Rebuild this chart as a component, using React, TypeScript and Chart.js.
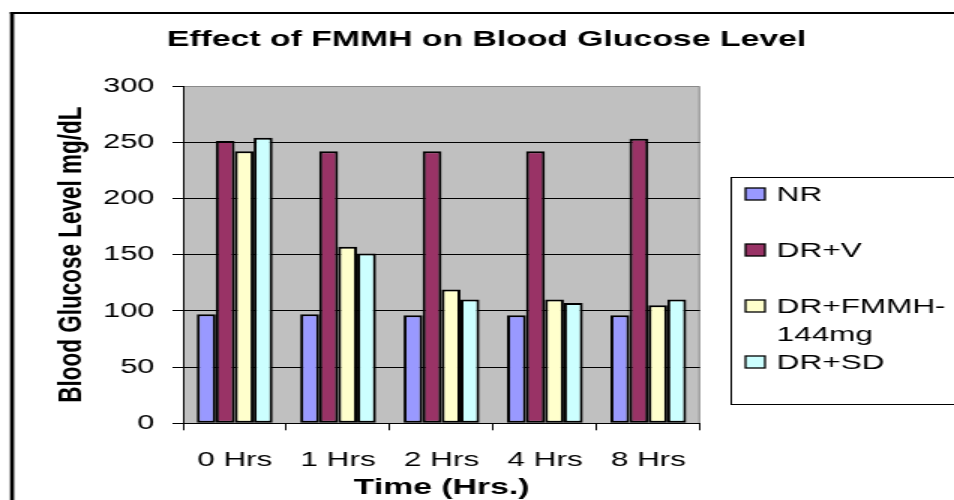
import React, { useEffect, useRef } from "react";
import { Chart, registerables } from "chart.js";

Chart.register(...registerables);

const TITLE = "Effect of FMMH on Blood Glucose Level";
const X_TITLE = "Time (Hrs.)";
const Y_TITLE = "Blood Glucose Level mg/dL";

const CATEGORIES = ["0 Hrs", "1 Hrs", "2 Hrs", "4 Hrs", "8 Hrs"];
const NR = [97, 97, 96, 96, 96];
const DR_V = [251, 242, 242, 242, 253];
const DR_FMMH = [242, 157, 119, 110, 105];
const DR_SD = [254, 151, 110, 107, 110];

const SERIES_LABELS = ["NR", "DR+V", "DR+FMMH-144mg", "DR+SD"];
const LEGEND_LINES = [["NR"], ["DR+V"], ["DR+FMMH-", "144mg"], ["DR+SD"]];
const COLORS = ["#9999FF", "#993366", "#FFFFCC", "#CCFFFF"];

const Y_MIN = 0;
const Y_MAX = 300;
const Y_STEP = 50;

const FONT = "'Liberation Sans', Arial, Helvetica, sans-serif";
const W = 636;
const H = 500;

const decor = {
  id: "decor",
  beforeDraw(chart: any) {
    const { ctx, chartArea: a } = chart;
    ctx.save();
    ctx.fillStyle = "#ffffff";
    ctx.fillRect(0, 0, chart.width, chart.height);
    // outer frame
    ctx.fillStyle = "#000000";
    ctx.fillRect(6.7, 12, 2.7, H);
    ctx.fillRect(6.7, 12, W, 2);
    // plot area
    ctx.fillStyle = "#C0C0C0";
    ctx.fillRect(a.left, a.top, a.right - a.left, a.bottom - a.top);
    ctx.strokeStyle = "#8a8a8a";
    ctx.lineWidth = 1;
    ctx.beginPath();
    ctx.moveTo(a.left, a.top + 0.5);
    ctx.lineTo(a.right - 0.5, a.top + 0.5);
    ctx.lineTo(a.right - 0.5, a.bottom);
    ctx.stroke();
    ctx.restore();
  },
  afterDraw(chart: any) {
    const { ctx } = chart;
    ctx.save();
    // title
    ctx.fillStyle = "#000";
    ctx.font = `bold 22.5px ${FONT}`;
    ctx.textAlign = "center";
    ctx.textBaseline = "alphabetic";
    ctx.fillText(TITLE, 324.3, 46);
    // legend box
    ctx.strokeStyle = "#000";
    ctx.lineWidth = 1;
    ctx.strokeRect(487.5, 177.5, 300, 227);
    ctx.font = `21px ${FONT}`;
    ctx.textAlign = "left";
    ctx.textBaseline = "middle";
    chart.data.datasets.forEach((ds: any, i: number) => {
      const cy = 194 + 56 * i;
      ctx.fillStyle = ds.backgroundColor;
      ctx.fillRect(497, cy - 6, 13, 12);
      ctx.lineWidth = 1.3;
      ctx.strokeStyle = "#000";
      ctx.strokeRect(497, cy - 6, 13, 12);
      ctx.fillStyle = "#000";
      LEGEND_LINES[i].forEach((line, j) => {
        ctx.fillText(line, 517.8, cy + 1 + j * 28);
      });
    });
    ctx.restore();
  },
};

export default function App() {
  const ref = useRef<HTMLCanvasElement>(null);
  useEffect(() => {
    if (!ref.current) return;
    const series = [NR, DR_V, DR_FMMH, DR_SD];
    const chart = new Chart(ref.current, {
      type: "bar",
      data: {
        labels: CATEGORIES,
        datasets: series.map((d, i) => ({
          label: SERIES_LABELS[i],
          data: d,
          backgroundColor: COLORS[i],
          borderColor: "#000000",
          borderWidth: 2,
          borderSkipped: false,
          inflateAmount: 0,
          categoryPercentage: 0.733,
          barPercentage: 1,
        })),
      },
      options: {
        responsive: false,
        maintainAspectRatio: false,
        devicePixelRatio: 1,
        animation: false,
        datasets: {
          bar: { categoryPercentage: 0.733, barPercentage: 1 },
        },
        layout: { padding: { left: 0, top: 86, right: W - 466.7, bottom: 0 } },
        plugins: {
          legend: { display: false },
          title: { display: false },
          tooltip: { enabled: false },
        },
        scales: {
          x: {
            afterFit: (s: any) => {
              s.height = H - 423.3;
            },
            grid: {
              drawOnChartArea: false,
              drawTicks: true,
              tickLength: 7,
              color: "#000",
              tickColor: "#000",
              offset: true,
            },
            border: { display: true, color: "#000", width: 1 },
            ticks: {
              color: "#000",
              font: { family: FONT, size: 21 },
              padding: 17,
              maxRotation: 0,
            },
            title: {
              display: true,
              text: X_TITLE,
              color: "#000",
              font: { family: FONT, size: 22.5, weight: "bold", lineHeight: 1 },
              padding: { top: 0, bottom: 1.25 },
            },
          },
          y: {
            min: Y_MIN,
            max: Y_MAX,
            afterFit: (s: any) => {
              s.width = 122;
            },
            grid: {
              color: (c: any) => (c.tick && c.tick.value === Y_MAX ? "rgba(0,0,0,0)" : "#000"),
              tickColor: "#000",
              lineWidth: 1,
              drawTicks: true,
              tickLength: 7,
            },
            border: { display: true, color: "#000", width: 1 },
            ticks: {
              stepSize: Y_STEP,
              color: "#000",
              font: { family: FONT, size: 20.5 },
              padding: 12,
            },
            title: {
              display: true,
              text: Y_TITLE,
              color: "#000",
              font: { family: FONT, size: 22.5, weight: "bold", lineHeight: 1.2 },
              padding: { top: 34.2, bottom: 0 },
            },
          },
        },
      },
      plugins: [decor],
    } as any);
    return () => chart.destroy();
  }, []);
  return (
    <canvas
      ref={ref}
      width={W}
      height={H}
      style={{ position: "absolute", left: 0, top: 0, width: "954px", height: "500px" }}
    />
  );
}
